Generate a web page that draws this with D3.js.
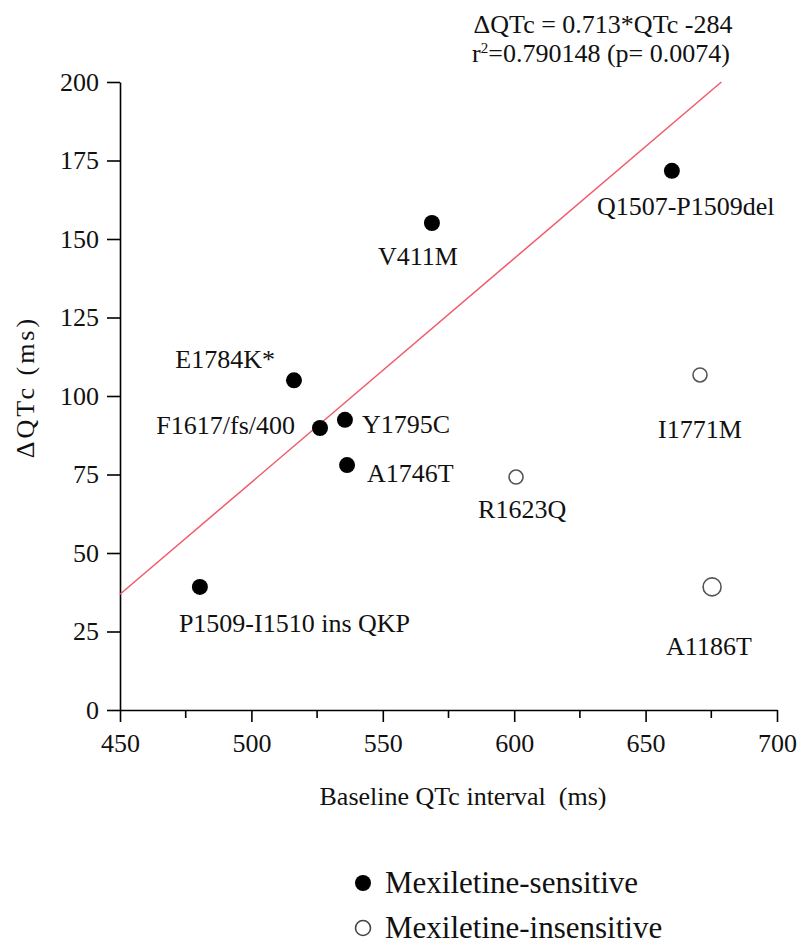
<!DOCTYPE html>
<html>
<head>
<meta charset="utf-8">
<script src="https://cdn.jsdelivr.net/npm/d3@7"></script>
<style>
  body { margin: 0; background: #fff; }
  text { font-family: "Liberation Serif", "Times New Roman", serif; fill: #111; }
</style>
</head>
<body>
<div id="chart"></div>
<script>
// frame and plot area
const FRAME_WIDTH = 799;
const FRAME_HEIGHT = 945;
const MARGINS = {left: 120, right: 22, top: 82, bottom: 235};
const VIS_WIDTH = FRAME_WIDTH - MARGINS.left - MARGINS.right;
const VIS_HEIGHT = FRAME_HEIGHT - MARGINS.top - MARGINS.bottom;

// data
const mutations = ["P1509-I1510 ins QKP", "E1784K*", "F1617/fs/400", "Y1795C", "A1746T",
                   "V411M", "Q1507-P1509del", "R1623Q", "I1771M", "A1186T"];
const baselineQTc = [480.4, 516.2, 526.1, 535.6, 536.4, 568.7, 660.0, 600.7, 670.7, 675.3];
const deltaQTc = [39.2, 105.0, 89.8, 92.4, 78.0, 155.1, 171.7, 74.2, 106.7, 39.2];
const sensitive = [true, true, true, true, true, true, true, false, false, false];
// label offsets from the point (dx, dy, anchor)
const labelDx = [-21, -19, -25, 17, 20, -54, -75, -38, -42, -46];
const labelDy = [45, -12, 6, 13, 17, 42, 44, 41, 63, 68];
const labelAnchor = ["start", "end", "end", "start", "start", "start", "start", "start", "start", "start"];
const openRadius = [0, 0, 0, 0, 0, 0, 0, 7, 7, 9];

const X_TICKS = [450, 500, 550, 600, 650, 700];
const X_MINOR = [475, 525, 575, 625, 675];
const Y_TICKS = [0, 25, 50, 75, 100, 125, 150, 175, 200];

// regression line
const SLOPE = 0.713;
const INTERCEPT = -284;

const svg = d3.select("#chart")
  .append("svg")
    .attr("width", FRAME_WIDTH)
    .attr("height", FRAME_HEIGHT);

const X_SCALE = d3.scaleLinear().domain([450, 700]).range([0, VIS_WIDTH]);
const Y_SCALE = d3.scaleLinear().domain([0, 200]).range([VIS_HEIGHT, 0]);

const g = svg.append("g")
  .attr("transform", "translate(" + MARGINS.left + "," + MARGINS.top + ")");

// x axis with minor ticks
const xAxis = g.append("g")
  .attr("transform", "translate(0," + VIS_HEIGHT + ")")
  .call(d3.axisBottom(X_SCALE).tickValues(X_TICKS).tickSize(12).tickSizeOuter(0)
          .tickPadding(12).tickFormat(d3.format("d")));
xAxis.selectAll(".tick text").attr("font-size", 26).attr("font-family", "Liberation Serif");

xAxis.selectAll(".minor")
  .data(X_MINOR)
  .enter()
  .append("line")
    .attr("class", "minor")
    .attr("x1", (d) => X_SCALE(d))
    .attr("x2", (d) => X_SCALE(d))
    .attr("y1", 0)
    .attr("y2", 8)
    .attr("stroke", "#000")
    .attr("stroke-width", 1.6);

// y axis
const yAxis = g.append("g")
  .call(d3.axisLeft(Y_SCALE).tickValues(Y_TICKS).tickSize(13).tickSizeOuter(0)
          .tickPadding(8).tickFormat(d3.format("d")));
yAxis.selectAll(".tick text").attr("font-size", 26).attr("font-family", "Liberation Serif");

svg.selectAll(".domain, .tick line").attr("stroke", "#000").attr("stroke-width", 1.6);

// regression line from x=450 to where it meets 200
const xEnd = (200 - INTERCEPT) / SLOPE;
g.append("line")
  .attr("x1", X_SCALE(450))
  .attr("y1", Y_SCALE(SLOPE * 450 + INTERCEPT))
  .attr("x2", X_SCALE(xEnd))
  .attr("y2", Y_SCALE(200))
  .attr("stroke", "#f05a6a")
  .attr("stroke-width", 1.5);

// points
const pts = g.selectAll(".pt")
  .data(mutations)
  .enter()
  .append("g")
    .attr("class", "pt")
    .attr("transform", (d, i) => "translate(" + X_SCALE(baselineQTc[i]) + "," + Y_SCALE(deltaQTc[i]) + ")");

pts.append("circle")
  .attr("r", (d, i) => sensitive[i] ? 8 : openRadius[i])
  .attr("fill", (d, i) => sensitive[i] ? "#000" : "#fff")
  .attr("stroke", (d, i) => sensitive[i] ? "none" : "#555")
  .attr("stroke-width", 1.6);

pts.append("text")
  .attr("x", (d, i) => labelDx[i])
  .attr("y", (d, i) => labelDy[i])
  .attr("text-anchor", (d, i) => labelAnchor[i])
  .attr("font-size", 26)
  .text((d) => d);

// annotation
svg.append("text")
  .attr("x", 603).attr("y", 33)
  .attr("text-anchor", "middle")
  .attr("font-size", 26)
  .text("ΔQTc = 0.713*QTc -284");
const r2 = svg.append("text")
  .attr("x", 601).attr("y", 62)
  .attr("text-anchor", "middle")
  .attr("font-size", 26);
r2.append("tspan").text("r");
r2.append("tspan").attr("font-size", 15).attr("dy", -9).text("2");
r2.append("tspan").attr("dy", 9).text("=0.790148 (p= 0.0074)");

// axis titles
svg.append("text")
  .attr("x", 463)
  .attr("y", 805)
  .attr("text-anchor", "middle")
  .attr("font-size", 26)
  .attr("xml:space", "preserve")
  .text("Baseline QTc interval  (ms)");

svg.append("text")
  .attr("transform", "translate(34,387) rotate(-90)")
  .attr("text-anchor", "middle")
  .attr("font-size", 26)
  .attr("letter-spacing", 3)
  .text("ΔQTc (ms)");

// legend
const legendLabels = ["Mexiletine-sensitive", "Mexiletine-insensitive"];
const legendFilled = [true, false];
const legend = svg.selectAll(".leg")
  .data(legendLabels)
  .enter()
  .append("g")
    .attr("class", "leg")
    .attr("transform", (d, i) => "translate(363," + (883 + i * 45) + ")");
legend.append("circle")
  .attr("r", (d, i) => legendFilled[i] ? 8 : 7.5)
  .attr("fill", (d, i) => legendFilled[i] ? "#000" : "#fff")
  .attr("stroke", (d, i) => legendFilled[i] ? "none" : "#444")
  .attr("stroke-width", 1.6);
legend.append("text")
  .attr("x", 22)
  .attr("y", 10)
  .attr("font-size", 31)
  .text((d) => d);
</script>
</body>
</html>
